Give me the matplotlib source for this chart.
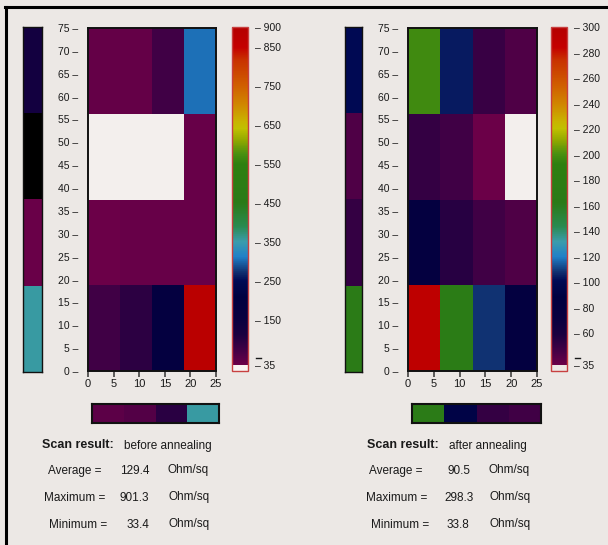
import numpy as np
import matplotlib
matplotlib.use('Agg')
import matplotlib.pyplot as plt
from matplotlib.colors import LinearSegmentedColormap, Normalize
from matplotlib.cm import ScalarMappable
from matplotlib.lines import Line2D

plt.rcParams['font.family'] = ['Liberation Sans', 'DejaVu Sans']

W, H = 608, 545
BG = '#ece8e5'
nan = np.nan

# ---------------- data ----------------
x_edges = [0, 6.25, 12.5, 18.75, 25]
y_edges = [0, 18.75, 37.5, 56.25, 75]
x_ticks = [0, 5, 10, 15, 20, 25]
y_ticks = [0, 5, 10, 15, 20, 25, 30, 35, 40, 45, 50, 55, 60, 65, 70, 75]

# rows bottom -> top, columns left -> right (Ohm/sq)
before_cells = [[75, 95, 180, 880],
                [35, 40, 40, 40],
                [nan, nan, nan, 40],
                [42, 42, 75, 305]]
before_rows = [355, 38, nan, 130]
before_cols = [50, 58, 98, 355]

after_cells = [[290, 171, 108, 82],
               [79, 55, 47, 43],
               [51, 47, 35, nan],
               [198, 104, 50, 43]]
after_rows = [166, 51, 43, 100]
after_cols = [166, 92, 51, 47]

before_range = (35, 900)
after_range = (35, 300)
before_cbar_ticks = [35, 150, 250, 350, 450, 550, 650, 750, 850, 900]
before_cbar_extra = [53]
after_cbar_ticks = [35, 60, 80, 100, 120, 140, 160, 180, 200, 220, 240, 260, 280, 300]
after_cbar_extra = [40.5]

stat_names = ['Average =', 'Maximum =', 'Minimum =']
before_stats = ['129.4', '901.3', '33.4']
after_stats = ['90.5', '298.3', '33.8']
unit = 'Ohm/sq'
scan_label = 'Scan result:'
titles = ['before annealing', 'after annealing']

# ---------------- colormap ----------------
anchors = [(0.000, '#6b0048'), (0.045, '#400045'), (0.09, '#1a0040'), (0.14, '#080040'),
           (0.20, '#000040'), (0.25, '#000a55'), (0.275, '#103070'), (0.32, '#2080c8'),
           (0.365, '#3a9cac'), (0.41, '#2a8a50'), (0.48, '#2a7a18'), (0.595, '#2e8010'),
           (0.625, '#4a9010'), (0.665, '#90a800'), (0.70, '#c0c000'), (0.72, '#c8b400'),
           (0.77, '#d08800'), (0.825, '#d06000'), (0.905, '#c83000'), (0.94, '#c40000'),
           (1.0, '#b40000')]
base_cmap = LinearSegmentedColormap.from_list('scan', anchors, N=512)


def fx(px):
    return px / W


def fy(py):
    return 1 - py / H


def rect(x0, y0, x1, y1):
    return [fx(x0), fy(y1), (x1 - x0) / W, (y1 - y0) / H]


fig = plt.figure(figsize=(W / 100, H / 100), dpi=100, facecolor=BG)

TICK_FS = 7.5
TXT_C = '#1a1a1a'


def panel(cells, rows, cols, vrange, cticks, cextra, under, stats, title,
          cb_x0, heat_x0, heat_x1, bar_x0, bar_x1, strip_x0, strip_x1, txt):
    norm = Normalize(vmin=vrange[0], vmax=vrange[1])
    cm_heat = base_cmap.copy()
    cm_heat.set_bad('#f3efed')
    cm_heat.set_under(under)
    cm_strip = base_cmap.copy()
    cm_strip.set_bad('black')

    # strip of row averages
    axs = fig.add_axes(rect(strip_x0, 27, strip_x1, 372))
    axs.pcolormesh([0, 1], y_edges, np.ma.masked_invalid(np.array(rows, float).reshape(4, 1)),
                   cmap=cm_strip, norm=norm)
    axs.set_xlim(0, 1); axs.set_ylim(0, 75)
    axs.set_xticks([]); axs.set_yticks([])
    for s in axs.spines.values():
        s.set_linewidth(1.0); s.set_color('#111111')

    # heatmap
    ax = fig.add_axes(rect(heat_x0, 28, heat_x1, 371))
    ax.set_facecolor('#f3efed')
    ax.pcolormesh(x_edges, y_edges, np.ma.masked_invalid(np.array(cells, float)),
                  cmap=cm_heat, norm=norm)
    ax.set_xlim(0, 25); ax.set_ylim(0, 75)
    ax.set_xticks(x_ticks)
    ax.set_xticklabels([str(v) for v in x_ticks])
    ax.set_yticks(y_ticks)
    ax.set_yticklabels([f'{v} \u2013' for v in y_ticks])
    ax.tick_params(axis='y', length=0, pad=7, labelsize=TICK_FS, labelcolor=TXT_C)
    ax.tick_params(axis='x', direction='out', length=4.5, width=1.1, pad=1.5,
                   labelsize=8, labelcolor=TXT_C, color='#333333')
    for s in ax.spines.values():
        s.set_linewidth(1.4); s.set_color('#111111')

    # colorbar
    cax = fig.add_axes(rect(cb_x0, 27, cb_x0 + 16, 371))
    sm = ScalarMappable(norm=norm, cmap=cm_heat)
    cb = fig.colorbar(sm, cax=cax, extend='min', extendrect=True, extendfrac=6 / 338)
    cb.outline.set_edgecolor('#c84040')
    cb.outline.set_linewidth(1.0)
    cb.set_ticks(cticks)
    cb.set_ticklabels([f'\u2013 {t}' for t in cticks])
    cax.tick_params(length=0, pad=5, labelsize=TICK_FS, labelcolor=TXT_C)
    for v in cextra:
        cax.plot([1 + 7.5 / 16, 1 + 13 / 16], [v, v], color=TXT_C, lw=1.0,
                 transform=cax.get_yaxis_transform(), clip_on=False)

    # bar of column averages
    axb = fig.add_axes(rect(bar_x0, 404, bar_x1, 423))
    axb.pcolormesh(x_edges, [0, 1], np.array(cols, float).reshape(1, 4), cmap=cm_strip, norm=norm)
    axb.set_xlim(0, 25); axb.set_ylim(0, 1)
    axb.set_xticks([]); axb.set_yticks([])
    for s in axb.spines.values():
        s.set_linewidth(1.5); s.set_color('#111111')

    # texts
    fig.text(fx(txt['scan']), fy(445), scan_label, fontsize=9, fontweight='bold',
             color=TXT_C, va='center', ha='left')
    fig.text(fx(txt['title']), fy(446), title, fontsize=8.5, color=TXT_C, va='center', ha='left')
    ys = [471, 498, 525]
    for i in range(3):
        fig.text(fx(txt['names'][i]), fy(ys[i]), stat_names[i], fontsize=8.5, color=TXT_C,
                 va='center', ha='left')
        fig.text(fx(txt['vals'][i]), fy(ys[i]), stats[i], fontsize=8.5, color=TXT_C,
                 va='center', ha='left')
        fig.text(fx(txt['unit'][i]), fy(ys[i] - 1), unit, fontsize=8.5, color=TXT_C,
                 va='center', ha='left')


panel(before_cells, before_rows, before_cols, before_range, before_cbar_ticks,
      before_cbar_extra, '#f8f4f2', before_stats, titles[0],
      cb_x0=232, heat_x0=88, heat_x1=216, bar_x0=92, bar_x1=219, strip_x0=23, strip_x1=42,
      txt={'scan': 42, 'title': 124, 'names': [48, 44, 49], 'vals': [120, 120, 127],
           'unit': [167, 168, 168]})
panel(after_cells, after_rows, after_cols, after_range, after_cbar_ticks,
      after_cbar_extra, BG, after_stats, titles[1],
      cb_x0=551, heat_x0=408, heat_x1=537, bar_x0=412, bar_x1=541, strip_x0=345, strip_x1=362,
      txt={'scan': 367, 'title': 449, 'names': [369, 366, 371], 'vals': [447, 444, 447],
           'unit': [488, 490, 490]})

# frame lines
fig.add_artist(Line2D([fx(6), fx(6)], [fy(7), 0], color='black', lw=2.2))
fig.add_artist(Line2D([fx(5), 1], [fy(7), fy(7)], color='black', lw=2.2))

fig.savefig('out.png', dpi=100, facecolor=BG)
